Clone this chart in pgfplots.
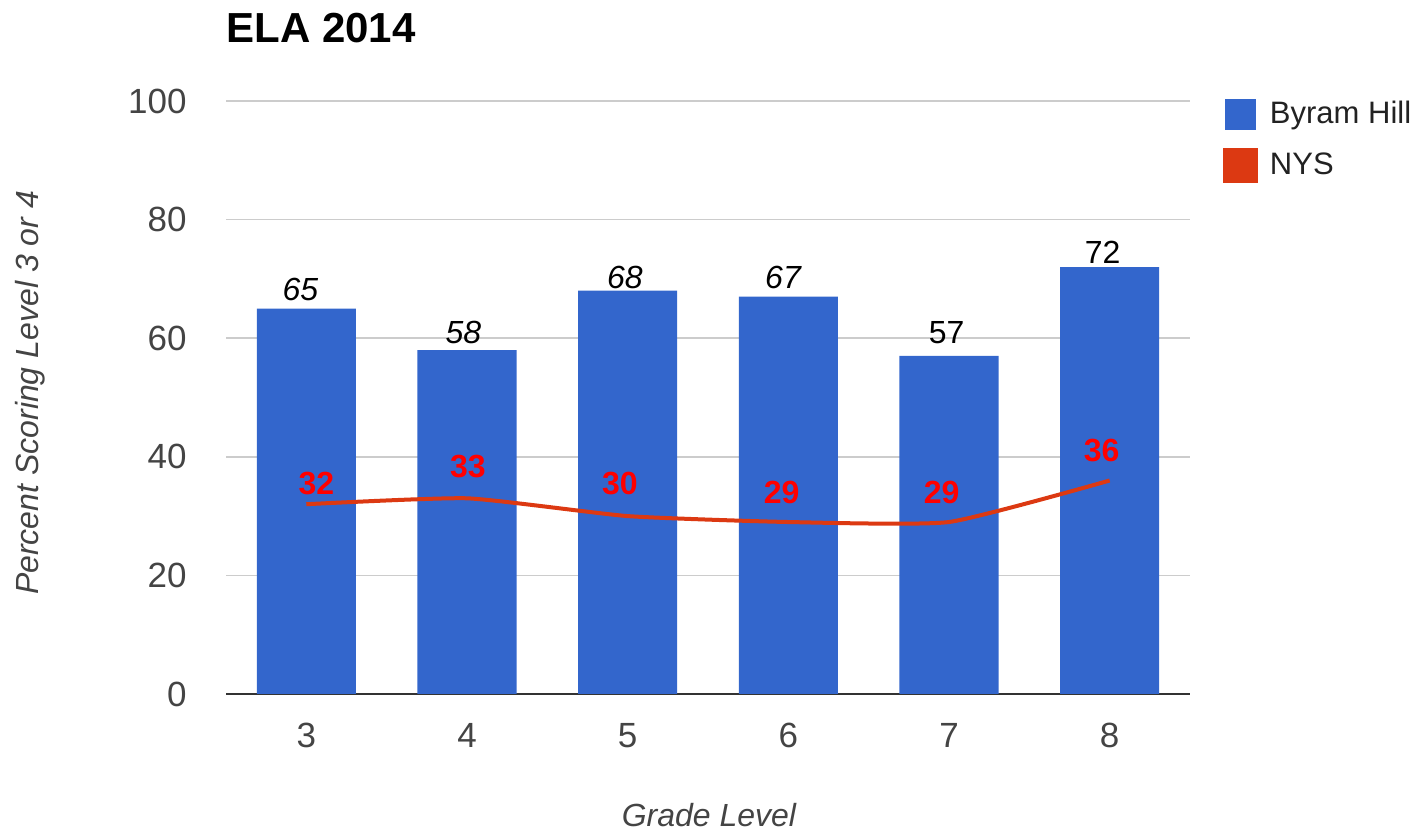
\documentclass[border=0pt]{standalone}
\usepackage{pgfplots}
\pgfplotsset{compat=1.18}
\usepackage{fontspec}
\setmainfont{Liberation Sans}
\definecolor{barblue}{HTML}{3366CC}
\definecolor{nysred}{HTML}{DC3912}
\definecolor{lblred}{HTML}{FF0000}
\definecolor{tickgray}{HTML}{444444}
\definecolor{gridgray}{HTML}{CCCCCC}
\definecolor{axisgray}{HTML}{333333}
\definecolor{legendtext}{HTML}{222222}
\begin{document}
\begin{tikzpicture}
\useasboundingbox (0,0) rectangle (713.5pt,416.5pt);
\begin{axis}[
  at={(113pt,69.5pt)}, anchor=south west,
  scale only axis, width=482pt, height=296.5pt,
  xmin=-0.5, xmax=5.5, ymin=0, ymax=100,
  xtick={0,...,5}, xticklabels={3,4,5,6,7,8},
  ytick={0,20,...,100},
  axis line style={draw=none},
  major tick length=0pt,
  ymajorgrids,
  major grid style={gridgray, line width=0.8pt},
  extra y ticks={0},
  extra y tick labels={},
  extra y tick style={grid=major, major grid style={axisgray, line width=1.1pt}},
  /pgf/number format/assume math mode=true,
  tick label style={font=\fontsize{17.5pt}{20pt}\selectfont, text=tickgray, inner sep=0pt},
  yticklabel style={anchor=east, xshift=-19.5pt},
  xticklabel style={anchor=north, yshift=-14.5pt},
  clip=false,
  title={ELA 2014},
  title style={at={(axis description cs:0,1.0792)}, anchor=base west, inner sep=0pt, font=\bfseries\fontsize{21pt}{25pt}\selectfont},
  xlabel={Grade Level},
  xlabel style={at={(axis description cs:0.501,-0.2233)}, anchor=base, inner sep=0pt, text=tickgray, font=\itshape\fontsize{16pt}{19pt}\selectfont},
  ylabel={Percent Scoring Level 3 or 4},
  ylabel style={at={(axis description cs:-0.194,0.5076)}, anchor=base, inner sep=0pt, text=tickgray, font=\itshape\fontsize{16pt}{19pt}\selectfont},
  legend style={at={(1.0342,1.0034)}, anchor=north west, draw=none, fill=none,
    inner sep=0pt, outer sep=0pt, row sep=9pt, column sep=6pt,
    font=\fontsize{15.5pt}{18pt}\selectfont, text=legendtext,
    nodes={inner sep=0pt, text height=12.15pt, text depth=3.35pt}},
  legend cell align=left,
]
\addplot[ybar, bar width=0.617, fill=barblue, draw=none,
  legend image code/.code={\fill[barblue] (0pt,-7.75pt) rectangle (15.5pt,7.75pt);}]
  coordinates {(0,65) (1,58) (2,68) (3,67) (4,57) (5,72)};
\addlegendentry{Byram Hill}
\addplot[nysred, line width=2pt, smooth, tension=0.3,
  legend image code/.code={\fill[nysred] (0pt,-7.75pt) rectangle (15.5pt,7.75pt);}]
  coordinates {(0,32) (1,33) (2,30) (3,29) (4,29) (5,36)};
\addlegendentry{NYS}
% bar value labels
\node[font=\itshape\fontsize{16pt}{19pt}\selectfont] at (axis cs:-0.037,68.2) {65};
\node[font=\itshape\fontsize{16pt}{19pt}\selectfont] at (axis cs:0.978,61.0) {58};
\node[font=\itshape\fontsize{16pt}{19pt}\selectfont] at (axis cs:1.983,70.2) {68};
\node[font=\itshape\fontsize{16pt}{19pt}\selectfont] at (axis cs:2.967,70.2) {67};
\node[font=\fontsize{16pt}{19pt}\selectfont] at (axis cs:3.985,61.0) {57};
\node[font=\fontsize{16pt}{19pt}\selectfont] at (axis cs:4.956,74.5) {72};
% NYS value labels
\node[text=lblred, font=\bfseries\fontsize{16pt}{19pt}\selectfont] at (axis cs:0.062,35.5) {32};
\node[text=lblred, font=\bfseries\fontsize{16pt}{19pt}\selectfont] at (axis cs:1.006,38.4) {33};
\node[text=lblred, font=\bfseries\fontsize{16pt}{19pt}\selectfont] at (axis cs:1.952,35.5) {30};
\node[text=lblred, font=\bfseries\fontsize{16pt}{19pt}\selectfont] at (axis cs:2.958,33.9) {29};
\node[text=lblred, font=\bfseries\fontsize{16pt}{19pt}\selectfont] at (axis cs:3.954,34.0) {29};
\node[text=lblred, font=\bfseries\fontsize{16pt}{19pt}\selectfont] at (axis cs:4.950,41.1) {36};
\end{axis}
\end{tikzpicture}
\end{document}
